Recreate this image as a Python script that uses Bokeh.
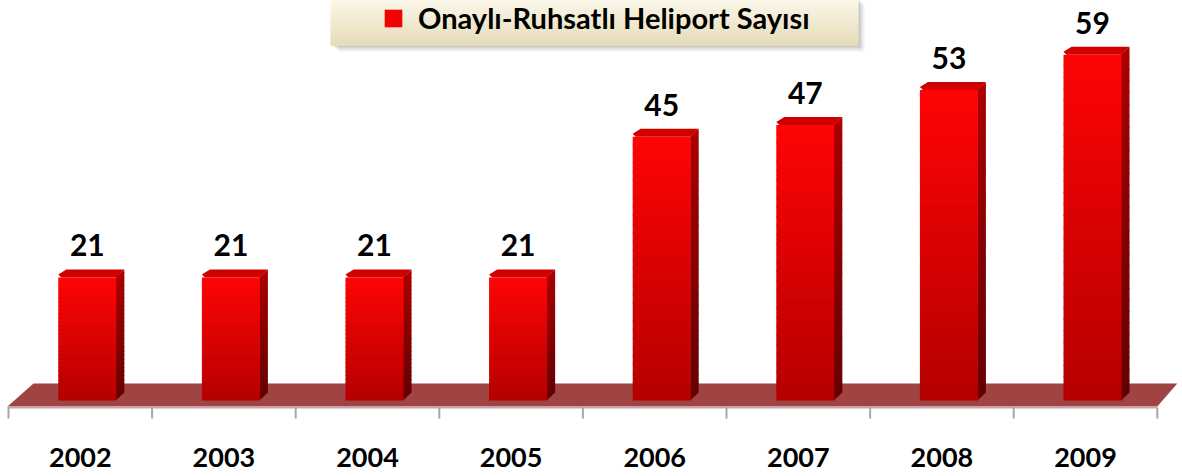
import numpy as np
from bokeh.plotting import figure
from bokeh.models import Range1d, ColumnDataSource, Legend, LegendItem
from bokeh.core.properties import value
from bokeh.embed import file_html
from bokeh.resources import INLINE

# ---- data ----
years = ["2002", "2003", "2004", "2005", "2006", "2007", "2008", "2009"]
counts = [21, 21, 21, 21, 45, 47, 53, 59]
series_name = "Onaylı-Ruhsatlı Heliport Sayısı"

# ---- layout constants (pixels) ----
W, H = 1182, 476
LEFT_PX = 8           # pixel x of the first category boundary
CAT_PX = 143.6        # pixels per category
PPU = 5.86            # pixels per unit of value
BASE_FY = 400         # pixel y (from top) of value 0

ux = 1.0 / CAT_PX     # data units per pixel (x)
uy = 1.0 / PPU        # data units per pixel (y)
x_start = -0.5 - LEFT_PX * ux
x_end = x_start + W * ux
y_end = BASE_FY * uy
y_start = y_end - H * uy


def fx(px):   # pixel x -> data x
    return x_start + px * ux


def fy(py):   # pixel y (from top) -> data y
    return y_end - py * uy


def lerp_hex(c0, c1, t):
    c = [int(round(a + (b - a) * t)) for a, b in zip(c0, c1)]
    return "#%02x%02x%02x" % tuple(c)


p = figure(width=W, height=H, x_range=Range1d(x_start, x_end), y_range=Range1d(y_start, y_end),
           output_backend="svg", toolbar_location=None, min_border=0,
           x_axis_location=None, y_axis_location=None, outline_line_color=None)
p.grid.visible = False
p.background_fill_color = "white"
p.border_fill_color = "white"

n = len(years)
idx = np.arange(n)

# ---- floor ----
fl_front = fy(406)
fl_back = fy(383)
xl_edge = x_start + LEFT_PX * ux - 1 * ux
xr_edge = xl_edge + n + 1 * ux
p.patch([xl_edge, xr_edge, xr_edge + 20 * ux, xl_edge + 26 * ux],
        [fl_front, fl_front, fl_back, fl_back], fill_color="#a04343", line_color=None)
p.patch([xl_edge, xr_edge, xr_edge, xl_edge],
        [fl_front, fl_front, fl_front - 2 * uy, fl_front - 2 * uy], fill_color="#c9a6a6", line_color=None)

# ---- tick marks at category boundaries ----
bx = -0.5 + np.arange(n + 1)
p.segment(x0=bx, y0=[fy(407)] * (n + 1), x1=bx, y1=[fy(418)] * (n + 1),
          line_color="#a6a6a6", line_width=2)

# ---- 3D bars ----
OFF = 7 * ux
HALF = 29 * ux
DX = 8 * ux
DY = 8 * uy
NS = 30
OV = 1.0 * uy
front = dict(left=[], right=[], bottom=[], top=[], color=[])
side_xs, side_ys, side_c = [], [], []
top_xs, top_ys = [], []
for i, v in zip(idx, counts):
    xl = i + OFF - HALF
    xr = i + OFF + HALF
    for k in range(NS):
        b = v * k / NS
        t = v * (k + 1) / NS
        ext = OV if k < NS - 1 else 0
        frac = (k + 0.5) / NS
        front["left"].append(xl)
        front["right"].append(xr)
        front["bottom"].append(b)
        front["top"].append(t + ext)
        front["color"].append(lerp_hex((180, 0, 0), (255, 4, 4), frac))
        side_xs.append([xr - 0.5 * ux, xr + DX, xr + DX, xr - 0.5 * ux])
        side_ys.append([b, b + DY, t + DY + ext, t + ext])
        side_c.append(lerp_hex((100, 0, 0), (170, 0, 0), frac))
    top_xs.append([xl + 3 * ux, xr, xr + DX, xl + DX, xl])
    top_ys.append([v, v, v + DY, v + DY, v + 3 * uy])

p.patches(side_xs, side_ys, fill_color=side_c, line_color=None)
p.patches(top_xs, top_ys, fill_color="#d00000", line_color=None)
src = ColumnDataSource(front)
front_r = p.quad(left="left", right="right", bottom="bottom", top="top", fill_color="color",
                 line_color=None, source=src)

# ---- value labels ----
p.text(x=idx + OFF, y=np.array(counts) + 32 * uy, text=[str(c) for c in counts],
       text_font=value("Lato"), text_font_style="bold", text_font_size="30px",
       text_color="black", text_align="center", text_baseline="middle")

# ---- category labels ----
p.text(x=idx, y=[fy(457)] * n, text=years,
       text_font=value("Lato"), text_font_style="bold", text_font_size="27px",
       text_color="black", text_align="center", text_baseline="middle")

# ---- legend box (shadow + gradient) ----
LX0, LX1, LY0, LY1 = 330, 858, -2, 45
for s, a in [(6, 0.10), (4, 0.15), (2, 0.22)]:
    p.quad(left=[fx(LX0 + s + 2)], right=[fx(LX1 + s)], top=[fy(LY0 + s)], bottom=[fy(LY1 + s)],
           fill_color="#7a7a7a", fill_alpha=a, line_color=None)
NL = 20
lb = dict(left=[], right=[], top=[], bottom=[], color=[])
for k in range(NL):
    t0 = LY0 + (LY1 - LY0) * k / NL
    t1 = LY0 + (LY1 - LY0) * (k + 1) / NL
    lb["left"].append(fx(LX0))
    lb["right"].append(fx(LX1))
    lb["top"].append(fy(t0))
    lb["bottom"].append(fy(t1) - 0.5 * uy)
    lb["color"].append(lerp_hex((252, 248, 234), (229, 220, 184), k / (NL - 1)))
p.quad(left="left", right="right", top="top", bottom="bottom", fill_color="color",
       line_color=None, source=ColumnDataSource(lb))

legend = Legend(items=[LegendItem(label=series_name, renderers=[front_r], index=NS - 6)],
                location=(382, 441), orientation="horizontal", padding=0, margin=0, spacing=0,
                glyph_width=22, glyph_height=22, label_standoff=14, label_height=22,
                label_text_font="Lato", label_text_font_style="bold", label_text_font_size="29px",
                label_text_color="black", background_fill_alpha=0, border_line_alpha=0)
p.add_layout(legend)

open("out.html", "w").write(file_html(p, INLINE))
